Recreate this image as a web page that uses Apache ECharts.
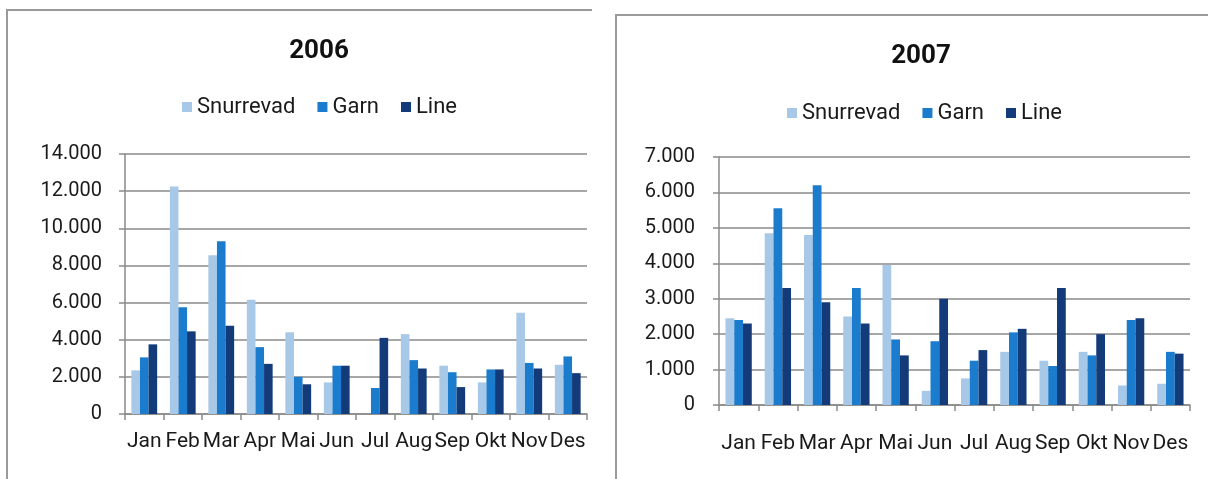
<!DOCTYPE html>
<html>
<head>
<meta charset="utf-8">
<script src="https://cdn.jsdelivr.net/npm/echarts@6/dist/echarts.min.js"></script>
<style>
html,body{margin:0;padding:0;background:#fff;}
#chart{width:1208px;height:479px;}
</style>
</head>
<body>
<div id="chart"></div>
<script>
const months = ['Jan','Feb','Mar','Apr','Mai','Jun','Jul','Aug','Sep','Okt','Nov','Des'];
const seriesNames = ['Snurrevad','Garn','Line'];
const titles = ['2006','2007'];
const snurrevad2006 = [2350, 12250, 8550, 6150, 4400, 1700, 0, 4300, 2600, 1700, 5450, 2650];
const garn2006      = [3050, 5750, 9300, 3600, 2000, 2600, 1400, 2900, 2250, 2400, 2750, 3100];
const line2006      = [3750, 4450, 4750, 2700, 1600, 2600, 4100, 2450, 1450, 2400, 2450, 2200];
const snurrevad2007 = [2450, 4850, 4800, 2500, 3950, 400, 750, 1500, 1250, 1500, 550, 600];
const garn2007      = [2400, 5550, 6200, 3300, 1850, 1800, 1250, 2050, 1100, 1400, 2400, 1500];
const line2007      = [2300, 3300, 2900, 2300, 1400, 3000, 1550, 2150, 3300, 2000, 2450, 1450];
const yMax = [14000, 7000];
const yStep = [2000, 1000];

const colors = ['#a7c8e6', '#1b7bcd', '#133b7a'];
const FONT = 'Roboto';
const fmt = v => String(v).replace(/\B(?=(\d{3})+(?!\d))/g, '.');

const chart = echarts.init(document.getElementById('chart'));

function yAxis(i, margin) {
  return {
    type: 'value', gridIndex: i, min: 0, max: yMax[i], interval: yStep[i],
    axisLine: {show: true, lineStyle: {color: '#8a8a8a', width: 1.5}},
    axisTick: {show: true, length: 6, lineStyle: {color: '#8a8a8a', width: 1.5}},
    splitLine: {show: true, lineStyle: {color: '#8a8a8a', width: 1.5}},
    axisLabel: {formatter: fmt, fontFamily: FONT, fontSize: 20, color: '#1a1a1a', margin: margin}
  };
}
function xAxis(i, margin) {
  return {
    type: 'category', gridIndex: i, data: months,
    axisLine: {show: true, lineStyle: {color: '#8a8a8a', width: 1.5}},
    axisTick: {show: true, length: 6, alignWithLabel: false, lineStyle: {color: '#8a8a8a', width: 1.5}},
    axisLabel: {interval: 0, fontFamily: FONT, fontSize: 21, color: '#1a1a1a', margin: margin}
  };
}
const data = [[snurrevad2006, garn2006, line2006], [snurrevad2007, garn2007, line2007]];
const series = [];
for (let g = 0; g < 2; g++) {
  for (let s = 0; s < 3; s++) {
    series.push({
      type: 'bar', name: seriesNames[s], xAxisIndex: g, yAxisIndex: g,
      data: data[g][s], barGap: '0%', barCategoryGap: '33%',
      itemStyle: {color: colors[s]}
    });
  }
}

chart.setOption({
  backgroundColor: '#ffffff',
  animation: false,
  color: colors,
  title: [
    {text: titles[0], left: 314, top: 33, textAlign: 'center',
     textStyle: {fontFamily: FONT, fontSize: 26, fontWeight: 'bold', color: '#111'}},
    {text: titles[1], left: 916, top: 38, textAlign: 'center',
     textStyle: {fontFamily: FONT, fontSize: 26, fontWeight: 'bold', color: '#111'}}
  ],
  legend: [
    {data: seriesNames, left: 177, top: 91, itemWidth: 10, itemHeight: 10, itemGap: 22, icon: 'rect',
     textStyle: {fontFamily: FONT, fontSize: 22, color: '#1a1a1a'}},
    {data: seriesNames, left: 782, top: 97, itemWidth: 10, itemHeight: 10, itemGap: 22, icon: 'rect',
     textStyle: {fontFamily: FONT, fontSize: 22, color: '#1a1a1a'}}
  ],
  grid: [
    {left: 125, right: 621, top: 154, bottom: 65},
    {left: 719, right: 18, top: 157, bottom: 74}
  ],
  xAxis: [xAxis(0, 17), xAxis(1, 28)],
  yAxis: [yAxis(0, 23), yAxis(1, 24)],
  series: series,
  graphic: [
    {type: 'polyline', shape: {points: [[7, 479], [7, 10], [592, 10]]}, style: {stroke: '#9a9a9a', lineWidth: 2, fill: null}},
    {type: 'polyline', shape: {points: [[616, 479], [616, 15], [1208, 15]]}, style: {stroke: '#9a9a9a', lineWidth: 2, fill: null}}
  ]
});
</script>
</body>
</html>
